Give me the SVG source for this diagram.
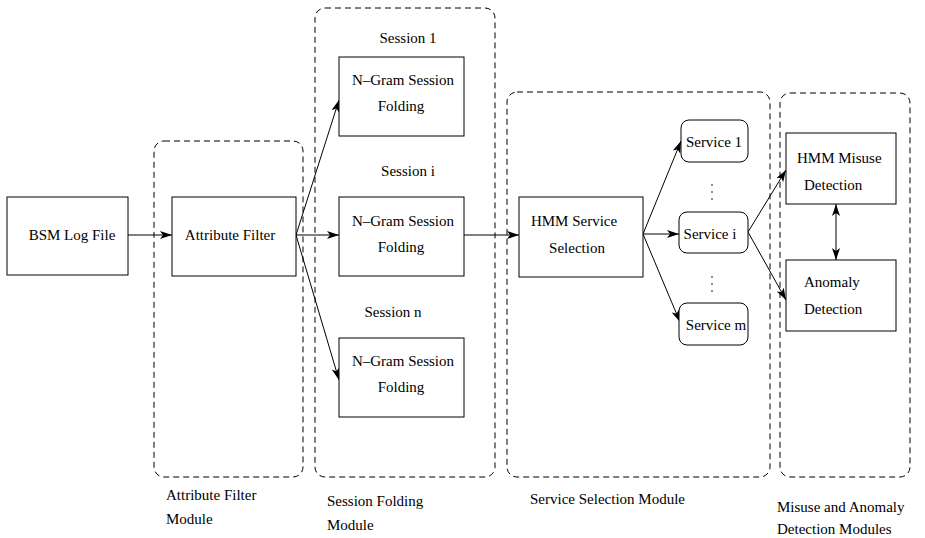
<svg xmlns="http://www.w3.org/2000/svg" width="925" height="538" viewBox="0 0 925 538">
<style>
  text { font-family: "Liberation Serif", "Times New Roman", serif; font-size: 15px; fill: #000; }
  .box { fill: #fff; stroke: #000; stroke-width: 1; }
  .module { fill: none; stroke: #000; stroke-width: 1; stroke-dasharray: 6 4; }
  .link { fill: none; stroke: #000; stroke-width: 1; }
  .mid { text-anchor: middle; }
</style>
<defs>
  <marker id="head" viewBox="0 0 12 8" refX="12" refY="4" markerWidth="12" markerHeight="8" markerUnits="userSpaceOnUse" orient="auto">
    <path d="M0,0 L12,4 L0,8 L3,4 z" fill="#000"/>
  </marker>
  <marker id="tail" viewBox="0 0 12 8" refX="0" refY="4" markerWidth="12" markerHeight="8" markerUnits="userSpaceOnUse" orient="auto">
    <path d="M12,0 L0,4 L12,8 L9,4 z" fill="#000"/>
  </marker>
</defs>
<rect width="925" height="538" fill="#fff"/>

<!-- module frames -->
<g id="modules">
  <rect id="m-attr" class="module" x="154" y="141" width="149" height="336" rx="10"/>
  <rect id="m-sess" class="module" x="315" y="8" width="180" height="469" rx="10"/>
  <rect id="m-svc" class="module" x="507" y="92" width="263" height="385" rx="10"/>
  <rect id="m-det" class="module" x="780" y="93" width="130" height="384" rx="10"/>
</g>

<g id="module-labels">
  <text x="166" y="500">Attribute Filter</text>
  <text x="166" y="524">Module</text>
  <text x="327" y="506">Session Folding</text>
  <text x="327" y="530">Module</text>
  <text x="530" y="504">Service Selection Module</text>
  <text x="777" y="512">Misuse and Anomaly</text>
  <text x="777" y="534">Detection Modules</text>
</g>

<!-- connectors -->
<g id="connectors">
  <line class="link" x1="128" y1="235" x2="172" y2="235" marker-end="url(#head)"/>
  <line class="link" x1="296" y1="235" x2="339" y2="100" marker-end="url(#head)"/>
  <line class="link" x1="296" y1="235" x2="339" y2="235" marker-end="url(#head)"/>
  <line class="link" x1="296" y1="235" x2="339" y2="380" marker-end="url(#head)"/>
  <line class="link" x1="464" y1="235" x2="519" y2="235" marker-end="url(#head)"/>
  <line class="link" x1="643" y1="234" x2="681" y2="141" marker-end="url(#head)"/>
  <line class="link" x1="643" y1="234" x2="679" y2="234" marker-end="url(#head)"/>
  <line class="link" x1="643" y1="234" x2="680" y2="322" marker-end="url(#head)"/>
  <line class="link" x1="748" y1="232" x2="786" y2="170" marker-end="url(#head)"/>
  <line class="link" x1="748" y1="232" x2="786" y2="300" marker-end="url(#head)"/>
  <line class="link" x1="836" y1="204" x2="836" y2="260" marker-start="url(#tail)" marker-end="url(#head)"/>
</g>

<g id="bsm">
  <rect class="box" x="7" y="197" width="121" height="78"/>
  <text class="mid" x="72" y="240">BSM Log File</text>
</g>

<g id="attr-filter">
  <rect class="box" x="172" y="197" width="124" height="79"/>
  <text class="mid" x="230" y="240">Attribute Filter</text>
</g>

<g id="session-1">
  <text class="mid" x="408" y="43">Session 1</text>
  <rect class="box" x="339" y="57" width="125" height="79"/>
  <text class="mid" x="403" y="85">N–Gram Session</text>
  <text class="mid" x="401" y="111">Folding</text>
</g>

<g id="session-i">
  <text class="mid" x="408" y="176">Session i</text>
  <rect class="box" x="339" y="197" width="125" height="79"/>
  <text class="mid" x="403" y="226">N–Gram Session</text>
  <text class="mid" x="401" y="252">Folding</text>
</g>

<g id="session-n">
  <text class="mid" x="393" y="317">Session n</text>
  <rect class="box" x="339" y="338" width="125" height="79"/>
  <text class="mid" x="403" y="366">N–Gram Session</text>
  <text class="mid" x="401" y="392">Folding</text>
</g>

<g id="hmm-service">
  <rect class="box" x="519" y="197" width="124" height="80"/>
  <text class="mid" x="574" y="226">HMM Service</text>
  <text class="mid" x="577" y="253">Selection</text>
</g>

<g id="service-1">
  <rect class="box" x="681" y="120" width="67" height="42" rx="8"/>
  <text class="mid" x="714" y="147">Service 1</text>
</g>

<g id="service-i">
  <rect class="box" x="679" y="212" width="69" height="41" rx="8"/>
  <text class="mid" x="710" y="239">Service i</text>
</g>

<g id="service-m">
  <rect class="box" x="679" y="303" width="69" height="42" rx="8"/>
  <text class="mid" x="716" y="330">Service m</text>
</g>

<g id="ellipses" fill="#000">
  <circle cx="712" cy="185" r="0.8"/>
  <circle cx="712" cy="192" r="0.8"/>
  <circle cx="712" cy="199" r="0.8"/>
  <circle cx="712" cy="277" r="0.8"/>
  <circle cx="712" cy="284" r="0.8"/>
  <circle cx="712" cy="291" r="0.8"/>
</g>

<g id="hmm-misuse">
  <rect class="box" x="786" y="133" width="110" height="71"/>
  <text x="797" y="163">HMM Misuse</text>
  <text x="804" y="190">Detection</text>
</g>

<g id="anomaly">
  <rect class="box" x="786" y="260" width="110" height="71"/>
  <text x="804" y="287">Anomaly</text>
  <text x="804" y="314">Detection</text>
</g>
</svg>
